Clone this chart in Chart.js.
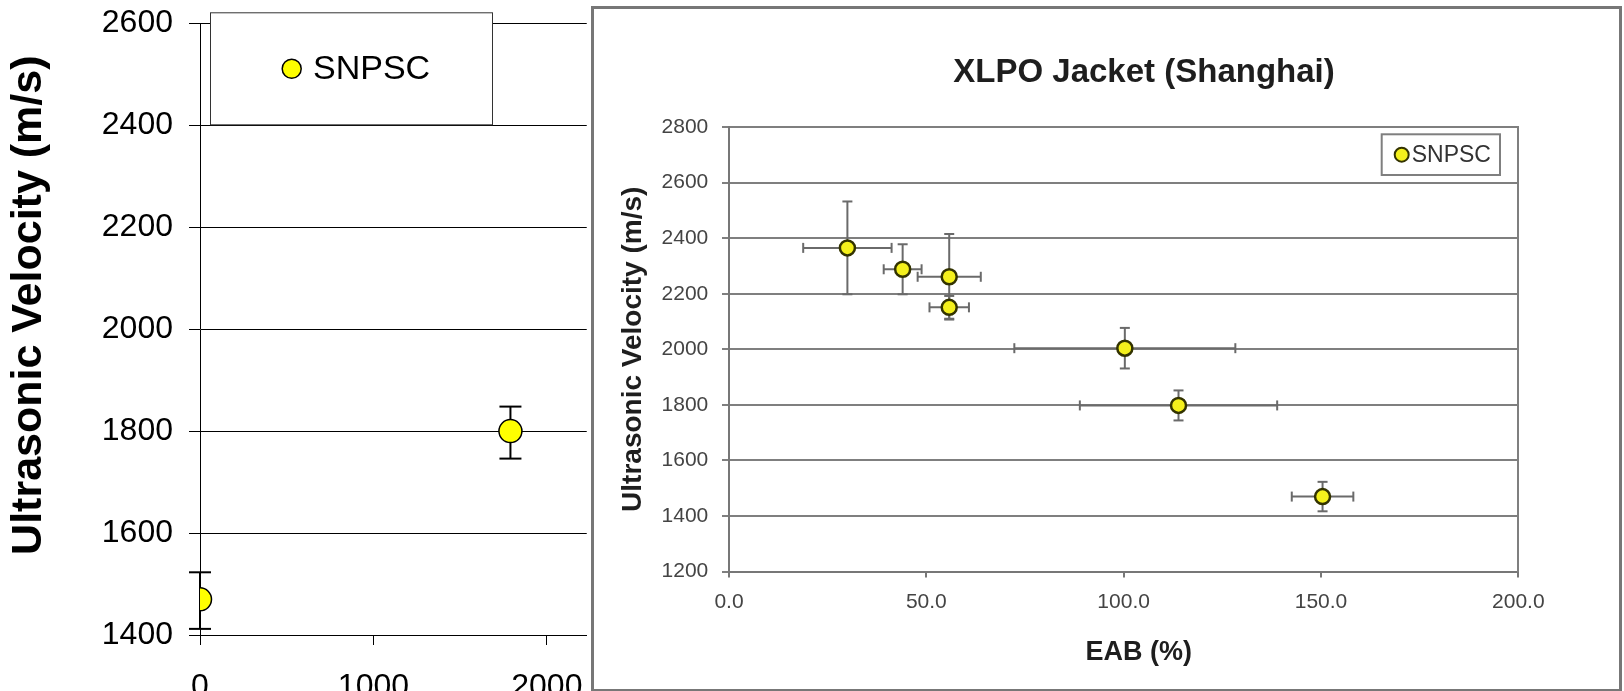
<!DOCTYPE html>
<html>
<head>
<meta charset="utf-8">
<script src="https://cdn.jsdelivr.net/npm/chart.js@4.4.1/dist/chart.umd.min.js"></script>
<style>
  html, body { margin: 0; padding: 0; background: #fff; overflow: hidden; }
  body { width: 1624px; height: 691px; position: relative; }
  #leftChart { position: absolute; left: 0; top: -12px; }
  #panel { position: absolute; left: 591px; top: 6px; width: 1031px; height: 686px; border: 3px solid #777; box-sizing: border-box; overflow: hidden; background: #fff; }
  #rightChart { position: absolute; left: 0; top: 0; }
</style>
</head>
<body>
<canvas id="leftChart" width="607" height="707"></canvas>
<div id="panel"><canvas id="rightChart" width="1100" height="680"></canvas></div>
<script>
const seriesName = "SNPSC";

// left chart (cut off on the right by the XLPO panel)
const leftX = [0, 1790];
const leftVelocity = [1470, 1800];
const leftErrPlus = [53, 48];
const leftErrMinus = [58, 54];
const leftXTicks = [0, 1000, 2000];

// right chart: XLPO Jacket (Shanghai)
const eab = [30.0, 44.0, 55.8, 55.8, 100.3, 113.9, 150.4];
const eabErr = [11.2, 4.8, 8.0, 5.0, 28.0, 25.0, 7.8];
const velocity = [2365, 2288, 2261, 2151, 2004, 1798, 1470];
const velocityErr = [167, 90, 154, 41, 73, 54, 53];

Chart.defaults.font.family = "'Liberation Sans', Arial, sans-serif";

// error bars, drawn behind the markers
const errorBars = {
    id: "errorBars",
    beforeDatasetsDraw(chart, args, opts) {
        const ctx = chart.ctx;
        const xs = chart.scales.x, ys = chart.scales.y;
        const c = opts.cap;
        function seg(x1, y1, x2, y2) {
            ctx.beginPath();
            ctx.moveTo(x1, y1);
            ctx.lineTo(x2, y2);
            ctx.stroke();
        }
        chart.data.datasets.forEach(ds => {
            const e = ds.errors;
            if (!e) return;
            ctx.save();
            ctx.strokeStyle = opts.color;
            ctx.lineWidth = opts.width;
            ds.data.forEach((p, i) => {
                const px = xs.getPixelForValue(p.x);
                const py = ys.getPixelForValue(p.y);
                if (e.x) {
                    const l = xs.getPixelForValue(p.x - e.x[i]);
                    const r = xs.getPixelForValue(p.x + e.x[i]);
                    seg(l, py, r, py);
                    seg(l, py - c, l, py + c);
                    seg(r, py - c, r, py + c);
                }
                if (e.yPlus) {
                    const t = ys.getPixelForValue(p.y + e.yPlus[i]);
                    const b = ys.getPixelForValue(p.y - e.yMinus[i]);
                    seg(px, t, px, b);
                    seg(px - c, t, px + c, t);
                    seg(px - c, b, px + c, b);
                }
            });
            ctx.restore();
        });
    }
};

// boxed legend placed inside the plot
const boxLegend = {
    id: "boxLegend",
    afterDatasetsDraw(chart, args, o) {
        const a = chart.chartArea, ctx = chart.ctx;
        const ds = chart.data.datasets[0];
        const x = a.left + o.x, y = a.top + o.y;
        ctx.save();
        ctx.fillStyle = "#fff";
        ctx.fillRect(x, y, o.w, o.h);
        ctx.strokeStyle = o.borderColor;
        ctx.lineWidth = o.borderWidth;
        ctx.strokeRect(x, y, o.w, o.h);
        ctx.beginPath();
        ctx.arc(x + o.markerX, y + o.markerY, o.r, 0, 2 * Math.PI);
        ctx.fillStyle = ds.pointBackgroundColor;
        ctx.fill();
        ctx.lineWidth = o.markerBorder;
        ctx.strokeStyle = ds.pointBorderColor;
        ctx.stroke();
        ctx.fillStyle = o.color;
        ctx.font = o.font;
        ctx.textBaseline = "middle";
        ctx.textAlign = "left";
        ctx.fillText(ds.label, x + o.textX, y + o.markerY + 1);
        ctx.restore();
    }
};

new Chart(document.getElementById("leftChart"), {
    type: "scatter",
    data: {
        datasets: [{
            label: seriesName,
            data: leftX.map((x, i) => ({ x: x, y: leftVelocity[i] })),
            pointRadius: 11.5,
            pointBackgroundColor: "#ffff00",
            pointBorderColor: "#000",
            pointBorderWidth: 1.5,
            errors: { yPlus: leftErrPlus, yMinus: leftErrMinus }
        }]
    },
    options: {
        responsive: false,
        animation: false,
        events: [],
        layout: { padding: { top: 10, right: 15, left: 0, bottom: 0 } },
        plugins: {
            legend: { display: false },
            tooltip: { enabled: false },
            errorBars: { color: "#000", width: 2, cap: 11 },
            boxLegend: {
                x: 10.5, y: -10.4, w: 282, h: 112,
                borderColor: "#333", borderWidth: 1,
                markerX: 81.2, markerY: 56, r: 9.5, markerBorder: 1.5,
                textX: 102.5, font: "34px 'Liberation Sans', Arial", color: "#000"
            }
        },
        scales: {
            x: {
                type: "linear", min: 0, max: 2230,
                afterBuildTicks: s => { s.ticks = leftXTicks.map(v => ({ value: v })); },
                afterFit: s => { s.height = 60; },
                grid: { drawOnChartArea: false, color: "#000", tickLength: 10 },
                border: { color: "#000", width: 1 },
                ticks: { font: { size: 32 }, color: "#000", padding: 23, maxRotation: 0, autoSkip: false, callback: v => String(v) }
            },
            y: {
                min: 1400, max: 2600,
                afterFit: s => { s.width = 200; },
                grid: { color: "#000", tickLength: 11 },
                border: { color: "#000", width: 1 },
                ticks: { stepSize: 200, font: { size: 32 }, color: "#000", padding: 16, callback: v => String(v) },
                title: {
                    display: true, text: "    Ultrasonic Velocity (m/s)", color: "#000",
                    font: { size: 43, weight: "bold" }, padding: { top: 3, bottom: 0 }
                }
            }
        }
    },
    plugins: [errorBars, boxLegend]
});

const gridGrey = "#7f7f7f";

new Chart(document.getElementById("rightChart"), {
    type: "scatter",
    data: {
        datasets: [{
            label: seriesName,
            data: eab.map((x, i) => ({ x: x, y: velocity[i] })),
            pointRadius: 7.5,
            pointBackgroundColor: "#f4f01c",
            pointBorderColor: "#333300",
            pointBorderWidth: 2.5,
            errors: { x: eabErr, yPlus: velocityErr, yMinus: velocityErr }
        }]
    },
    options: {
        responsive: false,
        animation: false,
        events: [],
        layout: { padding: 0 },
        plugins: {
            legend: { display: false },
            tooltip: { enabled: false },
            title: {
                display: true, text: "XLPO Jacket (Shanghai)", color: "#1e1e1e",
                font: { size: 33, weight: "bold" }, padding: { top: 44.2, bottom: 34.2 }
            },
            errorBars: { color: "#6a6a6a", width: 2, cap: 5 },
            boxLegend: {
                x: 652.7, y: 7.3, w: 118.3, h: 40.7,
                borderColor: gridGrey, borderWidth: 2,
                markerX: 20, markerY: 20.35, r: 7, markerBorder: 2,
                textX: 30, font: "23px 'Liberation Sans', Arial", color: "#333"
            }
        },
        scales: {
            x: {
                type: "linear", min: 0, max: 200,
                afterFit: s => { s.height = 117.4; },
                grid: { drawOnChartArea: false, color: "#777", tickLength: 6, lineWidth: 2 },
                border: { color: "#777", width: 2 },
                ticks: { stepSize: 50, font: { size: 21 }, color: "#444", padding: 12.3, maxRotation: 0, callback: v => v.toFixed(1) },
                title: {
                    display: true, text: "    EAB (%)", color: "#1e1e1e",
                    font: { size: 27, weight: "bold" }, padding: { top: 0, bottom: 20.5 }
                }
            },
            y: {
                min: 1200, max: 2800,
                afterFit: s => { s.width = 135; },
                grid: { color: gridGrey, tickLength: 7, lineWidth: 2 },
                border: { color: "#777", width: 2 },
                ticks: { stepSize: 200, font: { size: 21 }, color: "#444", padding: 13.7, callback: v => String(v) },
                title: {
                    display: true, text: "Ultrasonic Velocity (m/s)", color: "#1e1e1e",
                    font: { size: 28, weight: "bold" }, padding: { top: 22.8, bottom: 0 }
                }
            },
            y2: {
                position: "right", min: 0, max: 1,
                afterFit: s => { s.width = 175.7; },
                grid: { drawOnChartArea: false, drawTicks: false },
                border: { display: true, color: gridGrey, width: 2 },
                ticks: { display: false }
            }
        }
    },
    plugins: [errorBars, boxLegend]
});
</script>
</body>
</html>
